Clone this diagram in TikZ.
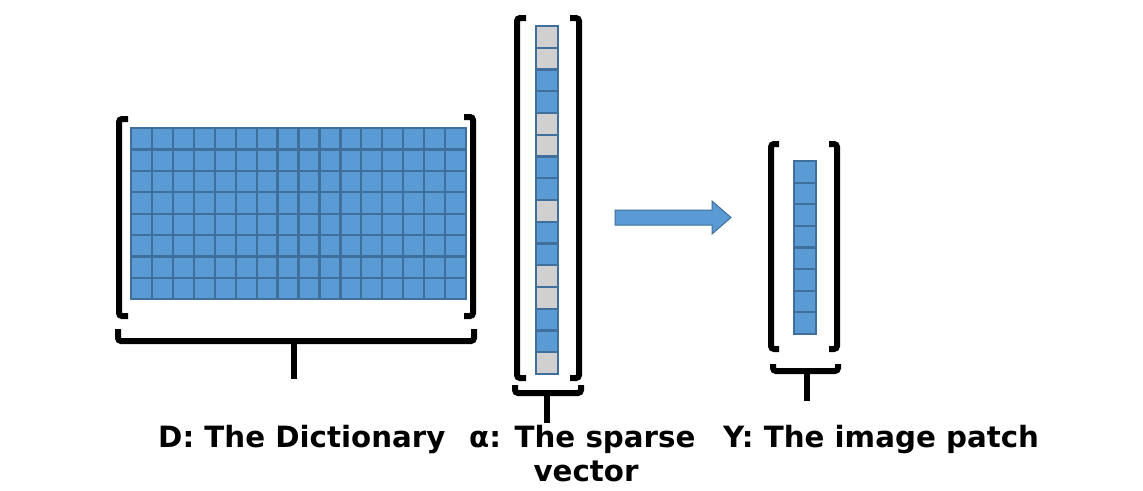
\documentclass[tikz,border=0pt]{standalone}
\usepackage{fontspec}
\setmainfont{DejaVu Sans}
\usetikzlibrary{calc}
\definecolor{cellblue}{HTML}{5B9BD5}
\definecolor{celledge}{HTML}{3F6F9A}
\definecolor{cellgray}{HTML}{D0D0D0}
\tikzset{
  cellbox/.style={draw=celledge, line width=2.2pt, fill=cellblue, inner sep=0pt, outer sep=0pt, anchor=north west},
  dcell/.style={cellbox, minimum width=20.94pt, minimum height=21.4pt},
  vcell/.style={cellbox, minimum width=22pt, minimum height=21.75pt},
  ycell/.style={cellbox, minimum width=22pt, minimum height=21.6pt},
  zerocell/.style={fill=cellgray},
  bracketline/.style={draw=black, line width=6pt, rounded corners=3pt},
  stemline/.style={draw=black, line width=6pt},
  label/.style={inner sep=0pt, anchor=base west, font=\bfseries\fontsize{29.3}{34}\selectfont},
  blockarrow/.style={fill=cellblue, draw=celledge, line width=1pt},
}
\begin{document}
\begin{tikzpicture}[x=1pt,y=-1pt]
\useasboundingbox (0,0) rectangle (1143,490);

% ---------- D: dictionary ----------
\foreach \i in {0,...,15}{
  \foreach \j in {0,...,7}{
    \node[dcell] (d-\i-\j) at ({131+\i*20.94},{128+\j*21.4}) {};
  }
}
\draw[bracketline] (128,119) -- (119,119) -- (119,316) -- (128,316);
\draw[bracketline] (464,117) -- (473,117) -- (473,316) -- (464,316);
\draw[bracketline] (118,329) -- (118,341) -- (474,341) -- (474,329);
\coordinate (dstem) at (294,341);
\coordinate (dstemend) at (294,379);
\draw[stemline] (dstem) -- (dstemend);

% ---------- alpha: sparse vector ----------
\foreach \k/\z in {0/1,1/1,2/0,3/0,4/1,5/1,6/0,7/0,8/1,9/0,10/0,11/1,12/1,13/0,14/0,15/1}{
  \ifnum\z=1
    \node[vcell, zerocell] (a-\k) at (536,{26+\k*21.75}) {};
  \else
    \node[vcell] (a-\k) at (536,{26+\k*21.75}) {};
  \fi
}
\draw[bracketline] (526,18) -- (517,18) -- (517,378) -- (526,378);
\draw[bracketline] (570,18) -- (579,18) -- (579,378) -- (570,378);
\draw[bracketline] (515,385) -- (515,393) -- (581,393) -- (581,385);
\coordinate (astem) at (547,393);
\coordinate (astemend) at (547,423);
\draw[stemline] (astem) -- (astemend);

% ---------- arrow ----------
\draw[blockarrow] (615,210) -- (712,210) -- (712,201) -- (731,217.5) -- (712,234) -- (712,225) -- (615,225) -- cycle;

% ---------- Y: image patch ----------
\foreach \k in {0,...,7}{
  \node[ycell] (y-\k) at (794,{161+\k*21.6}) {};
}
\draw[bracketline] (779,144) -- (771,144) -- (771,349) -- (779,349);
\draw[bracketline] (829,144) -- (837,144) -- (837,349) -- (829,349);
\draw[bracketline] (773,364) -- (773,371) -- (838,371) -- (838,364);
\coordinate (ystem) at (807,371);
\coordinate (ystemend) at (807,401);
\draw[stemline] (ystem) -- (ystemend);

% ---------- labels ----------
\node[label] (dlabel) at (158,447) {D: The Dictionary};
\node[label] (alabel) at (469,447) {α: The sparse};
\node[label, anchor=base] (alabel2) at (586,481) {vector};
\node[label] (ylabel) at (723,447) {Y: The image patch};
\end{tikzpicture}
\end{document}
